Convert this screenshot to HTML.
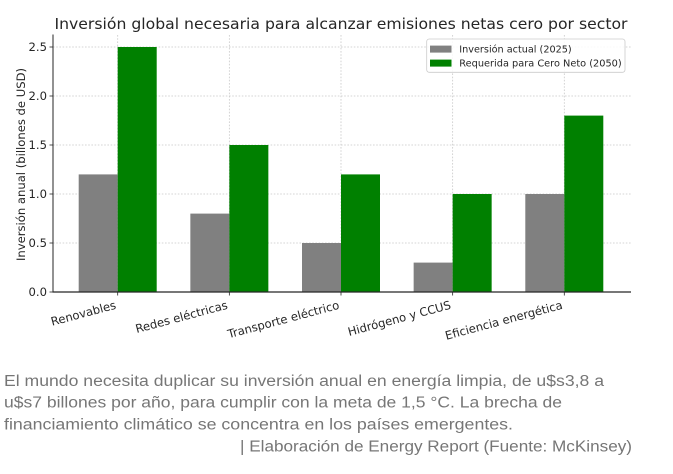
<!DOCTYPE html>
<html>
<head>
<meta charset="utf-8">
<style>
  html, body { margin: 0; padding: 0; background: #ffffff; }
  body { width: 673px; height: 474px; overflow: hidden; }
  svg { display: block; }
  .dv { font-family: "DejaVu Sans", "Liberation Sans", sans-serif; fill: #262626; }
  .cap { font-family: "Liberation Sans", "DejaVu Sans", sans-serif; fill: #767676; font-size: 15.5px; }
</style>
</head>
<body>
<svg width="673" height="474" viewBox="0 0 673 474" xmlns="http://www.w3.org/2000/svg">
  <rect x="0" y="0" width="673" height="474" fill="#ffffff"/>

  <!-- Title -->
  <text class="dv" x="341" y="29" font-size="15px" text-anchor="middle" textLength="573" lengthAdjust="spacingAndGlyphs">Inversión global necesaria para alcanzar emisiones netas cero por sector</text>

  <!-- Gridlines horizontal -->
  <g stroke="#c8c8c8" stroke-width="0.8" stroke-dasharray="1.6,1.6" fill="none">
    <line x1="53" y1="243" x2="631" y2="243"/>
    <line x1="53" y1="194" x2="631" y2="194"/>
    <line x1="53" y1="145" x2="631" y2="145"/>
    <line x1="53" y1="96" x2="631" y2="96"/>
    <line x1="53" y1="47" x2="631" y2="47"/>
    <!-- vertical -->
    <line x1="117.7" y1="35" x2="117.7" y2="292"/>
    <line x1="229.35" y1="35" x2="229.35" y2="292"/>
    <line x1="341" y1="35" x2="341" y2="292"/>
    <line x1="452.65" y1="35" x2="452.65" y2="292"/>
    <line x1="564.3" y1="35" x2="564.3" y2="292"/>
  </g>

  <!-- Bars: gray current -->
  <g fill="#808080">
    <rect x="78.7" y="174.4" width="39" height="117.6"/>
    <rect x="190.35" y="213.6" width="39" height="78.4"/>
    <rect x="302" y="243" width="39" height="49"/>
    <rect x="413.65" y="262.6" width="39" height="29.4"/>
    <rect x="525.3" y="194" width="39" height="98"/>
  </g>
  <!-- Bars: green required -->
  <g fill="#008000">
    <rect x="117.7" y="47" width="39" height="245"/>
    <rect x="229.35" y="145" width="39" height="147"/>
    <rect x="341" y="174.4" width="39" height="117.6"/>
    <rect x="452.65" y="194" width="39" height="98"/>
    <rect x="564.3" y="115.6" width="39" height="176.4"/>
  </g>

  <!-- Spines -->
  <line x1="53" y1="34.5" x2="53" y2="292" stroke="#262626" stroke-width="1"/>
  <line x1="52.5" y1="292" x2="631" y2="292" stroke="#262626" stroke-width="1.2"/>

  <!-- Y ticks -->
  <g stroke="#262626" stroke-width="0.8">
    <line x1="49.5" y1="292" x2="53" y2="292"/>
    <line x1="49.5" y1="243" x2="53" y2="243"/>
    <line x1="49.5" y1="194" x2="53" y2="194"/>
    <line x1="49.5" y1="145" x2="53" y2="145"/>
    <line x1="49.5" y1="96" x2="53" y2="96"/>
    <line x1="49.5" y1="47" x2="53" y2="47"/>
    <line x1="117.7" y1="292" x2="117.7" y2="295.5"/>
    <line x1="229.35" y1="292" x2="229.35" y2="295.5"/>
    <line x1="341" y1="292" x2="341" y2="295.5"/>
    <line x1="452.65" y1="292" x2="452.65" y2="295.5"/>
    <line x1="564.3" y1="292" x2="564.3" y2="295.5"/>
  </g>
  <g class="dv" font-size="11.6px" text-anchor="end">
    <text x="47" y="296.2">0.0</text>
    <text x="47" y="247.2">0.5</text>
    <text x="47" y="198.2">1.0</text>
    <text x="47" y="149.2">1.5</text>
    <text x="47" y="100.2">2.0</text>
    <text x="47" y="51.2">2.5</text>
  </g>

  <!-- Y label -->
  <text class="dv" font-size="11.6px" text-anchor="middle" transform="translate(24.8,164.5) rotate(-90)">Inversión anual (billones de USD)</text>

  <!-- X tick labels -->
  <g class="dv" font-size="11.6px" text-anchor="end">
    <text transform="translate(116.7,308.5) rotate(-15)">Renovables</text>
    <text transform="translate(228.3,308.5) rotate(-15)">Redes eléctricas</text>
    <text transform="translate(340,308.5) rotate(-15)">Transporte eléctrico</text>
    <text transform="translate(451.6,308.5) rotate(-15)">Hidrógeno y CCUS</text>
    <text transform="translate(563.3,308.5) rotate(-15)">Eficiencia energética</text>
  </g>

  <!-- Legend -->
  <rect x="426.7" y="39" width="198.3" height="33.3" rx="2.5" ry="2.5" fill="#ffffff" fill-opacity="0.85" stroke="#cccccc" stroke-width="0.8"/>
  <rect x="430" y="45.6" width="21.5" height="7" fill="#808080"/>
  <rect x="430" y="59.6" width="21.5" height="7" fill="#008000"/>
  <text class="dv" x="459.3" y="52.6" font-size="9.7px" textLength="112.4" lengthAdjust="spacingAndGlyphs">Inversión actual (2025)</text>
  <text class="dv" x="459.3" y="66.4" font-size="9.7px" textLength="162.4" lengthAdjust="spacingAndGlyphs">Requerida para Cero Neto (2050)</text>

  <!-- Caption -->
  <text class="cap" x="4" y="386" textLength="600" lengthAdjust="spacingAndGlyphs">El mundo necesita duplicar su inversión anual en energía limpia, de u$s3,8 a</text>
  <text class="cap" x="4" y="407.5" textLength="558" lengthAdjust="spacingAndGlyphs">u$s7 billones por año, para cumplir con la meta de 1,5 °C. La brecha de</text>
  <text class="cap" x="4" y="429.3" textLength="509" lengthAdjust="spacingAndGlyphs">financiamiento climático se concentra en los países emergentes.</text>
  <text class="cap" x="240" y="451.5" textLength="392" lengthAdjust="spacingAndGlyphs">| Elaboración de Energy Report (Fuente: McKinsey)</text>
</svg>
</body>
</html>
